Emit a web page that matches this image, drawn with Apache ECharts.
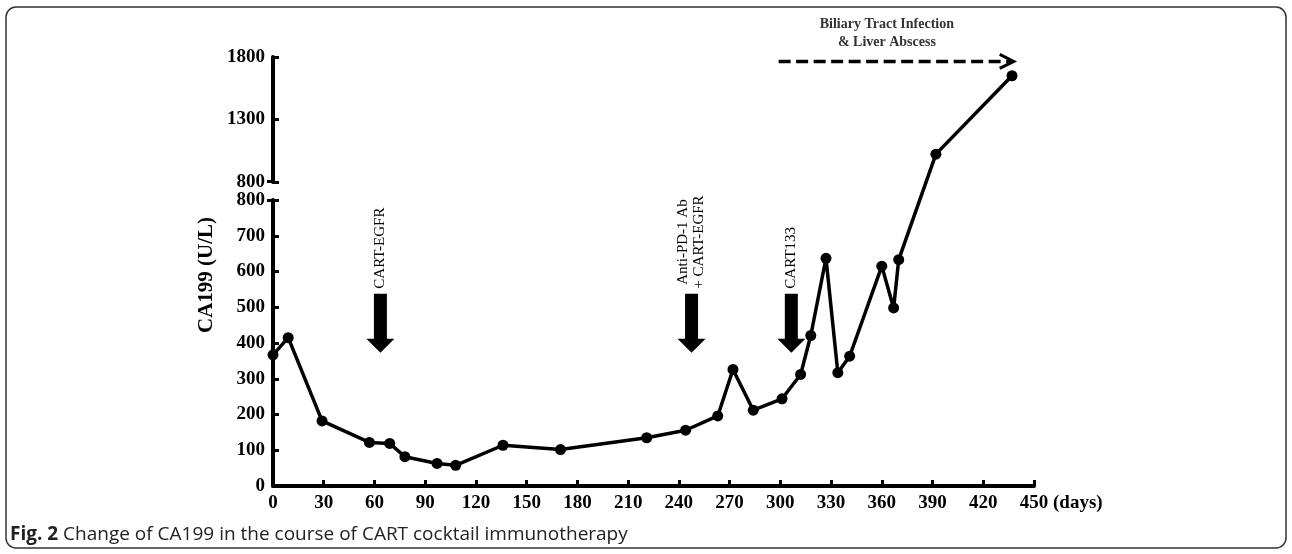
<!DOCTYPE html>
<html><head><meta charset="utf-8">
<script src="https://cdn.jsdelivr.net/npm/echarts@6/dist/echarts.min.js"></script>
<style>html,body{margin:0;padding:0;background:#fff}#c{width:1292px;height:554px}</style>
</head><body><div id="c"></div>
<script>
// ---- data ----
const lowDays = [0, 9, 29, 57, 69, 78, 97, 108, 136, 170, 221, 244, 263, 272, 284, 301, 312, 318, 327, 334, 341, 360, 367, 370];
const lowVals = [367, 415, 182, 122, 119, 82, 63, 58, 114, 102, 135, 156, 196, 326, 212, 244, 312, 421, 637, 317, 363, 615, 498, 633];
const highDays = [392, 437];
const highVals = [1023, 1650];
const xTickMin = 0, xTickMax = 450, xTickStep = 30;
const lowTickMin = 0, lowTickMax = 800, lowTickStep = 100;
const highTickMin = 800, highTickMax = 1800, highTickStep = 500;
const eventDays = [63.5, 247.5, 306.5];
const eventLabels = ['CART-EGFR', 'Anti-PD-1 Ab\n+ CART-EGFR', 'CART133'];
const infectionStart = 299, infectionEnd = 438, infectionLevel = 1765, infectionLabelDay = 363;
const infectionLabel = 'Biliary Tract Infection\n& Liver Abscess';
const yName = 'CA199 (U/L)';
const xName = '(days)';
const captionBold = 'Fig. 2';
const captionText = ' Change of CA199 in the course of CART cocktail immunotherapy';

// ---- chart ----
const SERIF = '"Liberation Serif", "Times New Roman", serif';
const EVENT_FONT = '15px ' + SERIF;
const measureCtx = document.createElement('canvas').getContext('2d');
function maxLineWidth(text, font) {
  measureCtx.font = font;
  return Math.max.apply(null, text.split('\n').map(t => measureCtx.measureText(t).width));
}
const chart = echarts.init(document.getElementById('c'), null, {renderer: 'canvas'});
const axisCommon = {
  axisLine: {show: true, onZero: false, lineStyle: {color: '#000', width: 4}},
  axisTick: {show: true, inside: true, length: 6, lineStyle: {color: '#000', width: 3}},
  axisLabel: {color: '#000', fontFamily: SERIF, fontWeight: 'bold', fontSize: 19, margin: 8, formatter: v => String(v)},
  splitLine: {show: false}
};
const lowData = lowDays.map((d, i) => [d, lowVals[i]]);
const highData = highDays.map((d, i) => [d, highVals[i]]);

const option = {
  animation: false,
  backgroundColor: '#fff',
  grid: [
    {left: 273, top: 200, width: 761, height: 286},
    {left: 273, top: 57, width: 761, height: 125}
  ],
  xAxis: [
    Object.assign({gridIndex: 0, type: 'value', min: xTickMin, max: xTickMax, interval: xTickStep}, axisCommon),
    {gridIndex: 1, type: 'value', min: xTickMin, max: xTickMax, show: false}
  ],
  yAxis: [
    Object.assign({gridIndex: 0, type: 'value', min: lowTickMin, max: lowTickMax, interval: lowTickStep}, axisCommon),
    Object.assign({gridIndex: 1, type: 'value', min: highTickMin, max: highTickMax, interval: highTickStep}, axisCommon)
  ],
  series: [
    {type: 'line', xAxisIndex: 0, yAxisIndex: 0, data: lowData, symbol: 'circle', symbolSize: 11,
     lineStyle: {color: '#000', width: 3.5}, itemStyle: {color: '#000'}, z: 3},
    {type: 'line', xAxisIndex: 1, yAxisIndex: 1, data: highData, symbol: 'circle', symbolSize: 11,
     lineStyle: {color: '#000', width: 3.5}, itemStyle: {color: '#000'}, z: 3},
    {type: 'custom', xAxisIndex: 0, yAxisIndex: 0, z: 4,
     data: eventDays.map((d, i) => [d, 373, i]),
     encode: {x: 0, y: 1},
     renderItem: function (params, api) {
       const tip = api.coord([api.value(0), api.value(1)]);
       const x = tip[0], yTip = tip[1];
       const headBase = yTip - 14, top = yTip - 59, hw = 6.5, hh = 14;
       const label = eventLabels[api.value(2)];
       const w = maxLineWidth(label, EVENT_FONT);
       return {type: 'group', children: [
         {type: 'polygon', shape: {points: [[x - hw, top], [x + hw, top], [x + hw, headBase], [x + hh, headBase], [x, yTip], [x - hh, headBase], [x - hw, headBase]]},
          style: {fill: '#000'}},
         {type: 'text', x: x, y: top - 5 - w / 2, rotation: Math.PI / 2,
          style: {text: label, fill: '#000', font: EVENT_FONT, align: 'center', verticalAlign: 'middle', lineHeight: 16}}
       ]};
     }},
    {type: 'custom', xAxisIndex: 1, yAxisIndex: 1, z: 4,
     data: [[infectionStart, infectionLevel, infectionEnd, infectionLabelDay]],
     encode: {x: 0, y: 1},
     renderItem: function (params, api) {
       const p1 = api.coord([api.value(0), api.value(1)]);
       const p2 = api.coord([api.value(2), api.value(1)]);
       const pl = api.coord([api.value(3), api.value(1)]);
       return {type: 'group', children: [
         {type: 'line', shape: {x1: p1[0], y1: p1[1], x2: p2[0] - 2, y2: p2[1]},
          style: {stroke: '#000', lineWidth: 3.5, lineDash: [12, 5.5]}},
         {type: 'polyline', shape: {points: [[p2[0] - 14, p2[1] - 7], [p2[0], p2[1]], [p2[0] - 14, p2[1] + 7]]},
          style: {stroke: '#000', lineWidth: 3, fill: null}},
         {type: 'text', x: pl[0], y: p1[1] - 28,
          style: {text: infectionLabel, fill: '#333', font: 'bold 14px ' + SERIF, align: 'center', verticalAlign: 'middle', lineHeight: 18}}
       ]};
     }}
  ],
  graphic: [
    {id: 'frame', type: 'rect', shape: {x: 6, y: 7, width: 1280, height: 541, r: 10}, style: {fill: null, stroke: '#333', lineWidth: 1.5}, z: 0},
    {id: 'yname', type: 'text', x: 207, y: 275, rotation: Math.PI / 2,
     style: {text: yName, fill: '#000', font: 'bold 21px ' + SERIF, align: 'center', verticalAlign: 'middle'}},
    {id: 'xname', type: 'text', x: 1053, y: 503,
     style: {text: xName, fill: '#000', font: 'bold 19px ' + SERIF, align: 'left', verticalAlign: 'middle'}},
    {id: 'caption', type: 'text', x: 10, y: 535,
     style: {text: '{b|' + captionBold + '}{n|' + captionText + '}', verticalAlign: 'middle',
       rich: {b: {fontFamily: '"Open Sans", sans-serif', fontWeight: 'bold', fontSize: 19, fill: '#222'},
              n: {fontFamily: '"Open Sans", sans-serif', fontSize: 19, fill: '#222'}}}}
  ]
};
chart.setOption(option);

// bridge segment across the axis break, from last lower point to first upper point
const a = chart.convertToPixel({gridIndex: 0}, lowData[lowData.length - 1]);
const b = chart.convertToPixel({gridIndex: 1}, highData[0]);
// outward halves of the end caps at the axis break
const capLow = chart.convertToPixel({gridIndex: 0}, [xTickMin, lowTickMax]);
const capHigh = chart.convertToPixel({gridIndex: 1}, [xTickMin, highTickMin]);
chart.setOption({graphic: [
  {id: 'bridge', type: 'line', shape: {x1: a[0], y1: a[1], x2: b[0], y2: b[1]}, style: {stroke: '#000', lineWidth: 3.5}, z: 1},
  {id: 'capLow', type: 'line', shape: {x1: capLow[0] - 6, y1: capLow[1] + 0.5, x2: capLow[0], y2: capLow[1] + 0.5}, style: {stroke: '#000', lineWidth: 3}},
  {id: 'capHigh', type: 'line', shape: {x1: capHigh[0] - 6, y1: capHigh[1] - 0.5, x2: capHigh[0], y2: capHigh[1] - 0.5}, style: {stroke: '#000', lineWidth: 3}}
]});
</script></body></html>
